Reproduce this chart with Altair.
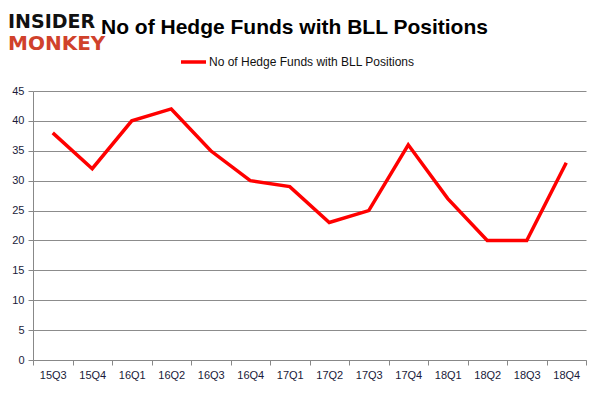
import altair as alt
import pandas as pd

quarters = ["15Q3", "15Q4", "16Q1", "16Q2", "16Q3", "16Q4", "17Q1", "17Q2",
            "17Q3", "17Q4", "18Q1", "18Q2", "18Q3", "18Q4"]
funds = [38, 32, 40, 42, 35, 30, 29, 23, 25, 36, 27, 20, 20, 33]
series_name = "No of Hedge Funds with BLL Positions"
y_ticks = [0, 5, 10, 15, 20, 25, 30, 35, 40, 45]

df = pd.DataFrame({"q": quarters, "v": funds})

W, H = 553, 269

base = alt.Chart(df)
line = base.mark_line(color="#ff0000", strokeWidth=3.5, clip=False).encode(
    x=alt.X("q:N", sort=quarters, title=None,
            scale=alt.Scale(paddingInner=0, paddingOuter=0),
            axis=alt.Axis(tickBand="extent", labelAngle=0, grid=False,
                          domainColor="#888888", tickColor="#888888", tickSize=5,
                          labelColor="#1a1a3a", labelFont="Liberation Sans",
                          labelFontSize=11, labelPadding=4)),
    y=alt.Y("v:Q", title=None,
            scale=alt.Scale(domain=[0, 45], nice=False),
            axis=alt.Axis(values=y_ticks, gridColor="#8c8c8c", gridWidth=1,
                          domainColor="#888888", tickColor="#888888", tickSize=5,
                          labelColor="#1a1a3a", labelFont="Liberation Sans",
                          labelFontSize=11, labelPadding=4)),
)

title = alt.Chart(pd.DataFrame({"t": ["No of Hedge Funds with BLL Positions"]})).mark_text(
    align="left", baseline="alphabetic", fontSize=21, fontWeight="bold",
    font="Liberation Sans", color="#000000").encode(
    x=alt.value(68), y=alt.value(-57), text="t:N")

logo1 = alt.Chart(pd.DataFrame({"t": ["INSIDER"]})).mark_text(
    align="left", baseline="alphabetic", fontSize=19, fontWeight="bold",
    font="DejaVu Sans", color="#111111").encode(
    x=alt.value(-25), y=alt.value(-63), text="t:N")
logo2 = alt.Chart(pd.DataFrame({"t": ["MONKEY"]})).mark_text(
    align="left", baseline="alphabetic", fontSize=20, fontWeight="bold",
    font="DejaVu Sans", color="#d0412b").encode(
    x=alt.value(-25), y=alt.value(-41), text="t:N")

leg_line = alt.Chart(pd.DataFrame({"a": [0]})).mark_rule(
    color="#ff0000", strokeWidth=3.5).encode(
    x=alt.value(148), x2=alt.value(173), y=alt.value(-29))
leg_text = alt.Chart(pd.DataFrame({"t": [series_name]})).mark_text(
    align="left", baseline="middle", fontSize=12, font="Liberation Sans",
    color="#111111").encode(x=alt.value(176), y=alt.value(-29), text="t:N")

chart = alt.layer(line, title, logo1, logo2, leg_line, leg_text).properties(
    width=W, height=H,
    autosize=alt.AutoSizeParams(type="none"),
    padding={"left": 25, "top": 83, "right": 7, "bottom": 28},
).configure_view(stroke=None).configure_axis(labelFontWeight="normal")

chart.save("out.html", embed_options={"renderer": "svg", "actions": False})
